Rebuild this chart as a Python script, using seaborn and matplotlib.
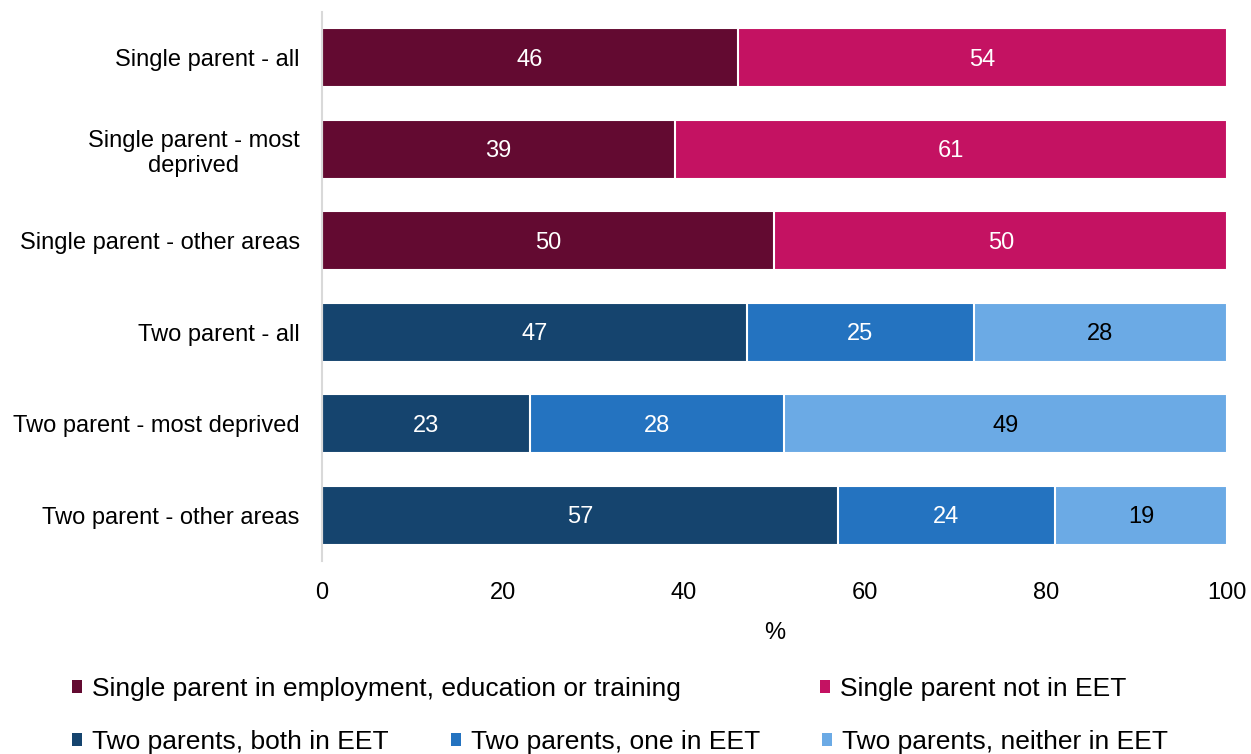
import numpy as np
import pandas as pd
import matplotlib
matplotlib.use("Agg")
import matplotlib.pyplot as plt
from matplotlib.patches import Patch
import seaborn as sns

# ---- data -------------------------------------------------------------
groups = [
    "Single parent - all",
    "Single parent - most\ndeprived",
    "Single parent - other areas",
    "Two parent - all",
    "Two parent - most deprived",
    "Two parent - other areas",
]
single_groups = groups[:3]
two_groups = groups[3:]

single_eet = [46, 39, 50]
single_not_eet = [54, 61, 50]
two_both_eet = [47, 23, 57]
two_one_eet = [25, 28, 24]
two_neither_eet = [28, 49, 19]

series_names = [
    "Single parent in employment, education or training",
    "Single parent not in EET",
    "Two parents, both in EET",
    "Two parents, one in EET",
    "Two parents, neither in EET",
]
x_ticks = [0, 20, 40, 60, 80, 100]

# ---- styling ----------------------------------------------------------
colors = ["#630A31", "#C41262", "#15446E", "#2473C0", "#6BAAE5"]
text_colors = ["white", "white", "white", "white", "black"]
palette = dict(zip(series_names, colors))
FS = 17
LEGEND_FS = 19

sns.set_theme(style="white")
plt.rcParams["font.family"] = ["Liberation Sans", "DejaVu Sans"]
plt.rcParams["text.color"] = "black"

# ---- long-form table: one row per stacked segment ---------------------
rows = []
stacks = [
    (single_groups, [single_eet, single_not_eet], [0, 1]),
    (two_groups, [two_both_eet, two_one_eet, two_neither_eet], [2, 3, 4]),
]
for grp_list, value_lists, idxs in stacks:
    for g_i, grp in enumerate(grp_list):
        start = 0
        for level, (vals, s_i) in enumerate(zip(value_lists, idxs)):
            v = vals[g_i]
            rows.append(dict(group=grp, series=series_names[s_i], level=level,
                             value=v, start=start, end=start + v, s_idx=s_i))
            start += v
df = pd.DataFrame(rows)

fig = plt.figure(figsize=(12.51, 7.54), dpi=100)
ax = fig.add_axes([322 / 1251, 1 - 561 / 754, (1227 - 322) / 1251, (561 - 12) / 754])

# draw cumulative bars from the outermost level inward so they read as a stack
for level in sorted(df["level"].unique(), reverse=True):
    sub = df[df["level"] == level]
    sns.barplot(data=sub, x="end", y="group", hue="series", order=groups,
                hue_order=series_names, palette=palette, dodge=False,
                saturation=1, orient="h", width=0.65, edgecolor="white",
                linewidth=1.5, legend=False, ax=ax)

# value labels at segment centres
pos = {g: i for i, g in enumerate(groups)}
for _, r in df.iterrows():
    ax.text(r["start"] + r["value"] / 2, pos[r["group"]] + 0.02, f"{r['value']:g}",
            ha="center", va="center", fontsize=FS, color=text_colors[r["s_idx"]])

ax.set_xlim(0, 100)
ax.set_ylim(len(groups) - 0.5, -0.5)
ax.set_xticks(x_ticks)
ax.set_xticklabels([str(t) for t in x_ticks])
ax.set_xlabel("%", fontsize=FS, labelpad=13, color="black")
ax.set_ylabel("")
ax.tick_params(axis="x", length=0, pad=15, labelsize=FS, colors="black")
ax.tick_params(axis="y", length=0, pad=16, labelsize=FS, colors="black")
for lbl in ax.get_yticklabels():
    lbl.set_multialignment("center")

for side in ["top", "right", "bottom"]:
    ax.spines[side].set_visible(False)
ax.spines["left"].set_color("#D9D9D9")
ax.spines["left"].set_linewidth(1.5)
ax.grid(False)

# legend entries laid out in two rows
legend_pos = [(72, 689), (820, 689), (72, 742), (451, 742), (822, 742)]
for name, col, (px, py) in zip(series_names, colors, legend_pos):
    fig.legend(handles=[Patch(facecolor=col, edgecolor="none", label=name)],
               loc="center left", bbox_to_anchor=(px / 1251, 1 - py / 754),
               frameon=False, fontsize=LEGEND_FS, handlelength=0.36,
               handleheight=0.36, handletextpad=0.4, borderpad=0,
               borderaxespad=0, labelcolor="black")

fig.savefig("out.png", dpi=100)
